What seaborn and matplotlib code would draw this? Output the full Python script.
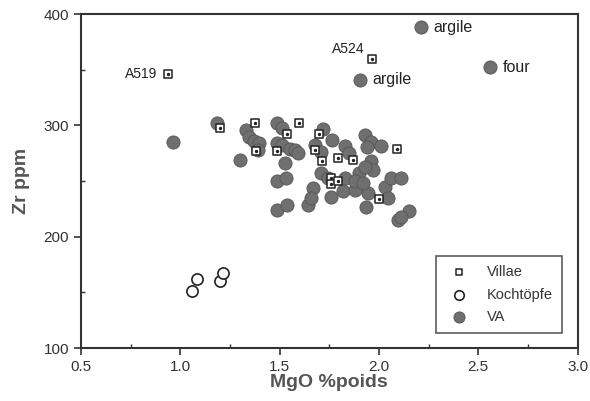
import pandas as pd
import matplotlib.pyplot as plt
import seaborn as sns
from matplotlib.ticker import MultipleLocator

# Villae (open squares with centre dot)
villae_mgo = [0.94, 1.965, 1.20, 1.375, 1.383, 1.54, 1.487, 1.60, 1.70, 1.68,
              1.715, 1.795, 1.87, 2.09, 1.757, 1.757, 1.795, 2.00]
villae_zr = [346, 360, 298, 302, 277, 292, 277, 302, 292, 277.5,
             267.6, 270.7, 269, 278.6, 252.5, 247.3, 250.3, 233.5]

# Kochtöpfe (open circles)
koch_mgo = [1.058, 1.085, 1.20, 1.215]
koch_zr = [151, 162, 160, 167]

# VA (grey filled circles)
va_mgo = [0.966, 1.183, 1.30, 1.33, 1.345, 1.37, 1.395, 1.39, 1.487, 1.51,
          1.487, 1.51, 1.553, 1.58, 1.595, 1.525, 1.487, 1.53, 1.487, 1.537,
          1.645, 1.72, 1.68, 1.71, 1.765, 1.83, 1.85, 1.93, 1.96, 1.94,
          2.01, 1.96, 1.97, 1.71, 1.745, 1.67, 1.66, 1.758, 1.83, 1.82,
          1.88, 1.945, 1.90, 1.93, 1.88, 1.92, 2.03, 2.06, 2.11, 2.045,
          1.936, 2.095, 2.15, 2.11, 1.905, 2.21, 2.56]
va_zr = [285, 302, 269, 296, 290, 286, 284, 278, 302.5, 297.6,
         284, 282, 279, 278, 275, 266, 249.6, 253, 224, 228.5,
         228.5, 297, 282, 276.5, 286.5, 281.5, 275, 291.4, 285.5, 281,
         281.5, 267.7, 260, 257, 252.5, 243.5, 234.5, 236, 252.5, 240.7,
         242, 239, 257, 263, 250, 248, 245, 252.5, 252.5, 234.5,
         227, 215, 222.8, 218, 341, 388, 352]

# point annotations
notes = [("A519", 0.94, 346, "left"), ("A524", 1.965, 360, "left_up"),
         ("argile", 1.905, 341, "right"), ("argile", 2.21, 388, "right"),
         ("four", 2.56, 352, "right")]

villae = pd.DataFrame({"MgO": villae_mgo, "Zr": villae_zr})
koch = pd.DataFrame({"MgO": koch_mgo, "Zr": koch_zr})
va = pd.DataFrame({"MgO": va_mgo, "Zr": va_zr})

sns.set_style("ticks")
plt.rcParams['font.family'] = ['Liberation Sans', 'DejaVu Sans']

fig = plt.figure(figsize=(5.9, 4.01), dpi=100)
ax = fig.add_axes([0.137, 0.132, 0.842, 0.833])

sns.scatterplot(data=va, x="MgO", y="Zr", ax=ax, marker="o", s=90,
                color="#6f6f6f", edgecolor="#555555", linewidth=0.6, label="VA", zorder=3)
sns.scatterplot(data=koch, x="MgO", y="Zr", ax=ax, marker="o", s=65,
                facecolor="white", edgecolor="#222222", linewidth=1.2, label="Kochtöpfe", zorder=3)
sns.scatterplot(data=villae, x="MgO", y="Zr", ax=ax, marker="s", s=30,
                facecolor="white", edgecolor="#222222", linewidth=1.1, label="Villae", zorder=4)
ax.scatter(villae["MgO"], villae["Zr"], s=2, color="#222222", zorder=5)

for txt, x, y, pos in notes:
    if pos == "left":
        ax.annotate(txt, (x, y), xytext=(-8, 0), textcoords="offset points",
                    ha="right", va="center", fontsize=10, color="#222222")
    elif pos == "left_up":
        ax.annotate(txt, (x, y), xytext=(-5, 7), textcoords="offset points",
                    ha="right", va="center", fontsize=10, color="#222222")
    else:
        ax.annotate(txt, (x, y), xytext=(9, 0), textcoords="offset points",
                    ha="left", va="center", fontsize=11.5, color="#222222")

ax.set_xlim(0.5, 3.0)
ax.set_ylim(100, 400)
ax.set_xticks([0.5, 1.0, 1.5, 2.0, 2.5, 3.0])
ax.set_xticklabels(["0.5", "1.0", "1.5", "2.0", "2.5", "3.0"])
ax.set_yticks([100, 200, 300, 400])
ax.xaxis.set_minor_locator(MultipleLocator(0.25))
ax.yaxis.set_minor_locator(MultipleLocator(50))
ax.tick_params(which="major", direction="out", length=5, width=1.2, color="#333333",
               labelsize=11, labelcolor="#333333")
ax.tick_params(which="minor", direction="in", length=3, width=1, color="#333333")

for sp in ax.spines.values():
    sp.set_linewidth(1.5)
    sp.set_color("#333333")

ax.set_xlabel("MgO %poids", fontsize=14, fontweight="bold", color="#555555", labelpad=0)
ax.set_ylabel("Zr ppm", fontsize=14, fontweight="bold", color="#555555", labelpad=10)

handles, labels = ax.get_legend_handles_labels()
order = [labels.index(n) for n in ["Villae", "Kochtöpfe", "VA"]]
leg = ax.legend([handles[i] for i in order], [labels[i] for i in order],
                loc="lower right", bbox_to_anchor=(0.968, 0.045), borderaxespad=0,
                fontsize=10.5, frameon=True, fancybox=False, edgecolor="#333333",
                borderpad=0.6, labelspacing=0.6, handletextpad=0.9, markerscale=0.85)
leg.get_frame().set_linewidth(1.2)
for t in leg.get_texts():
    t.set_color("#333333")

fig.savefig("out.png", dpi=100)
